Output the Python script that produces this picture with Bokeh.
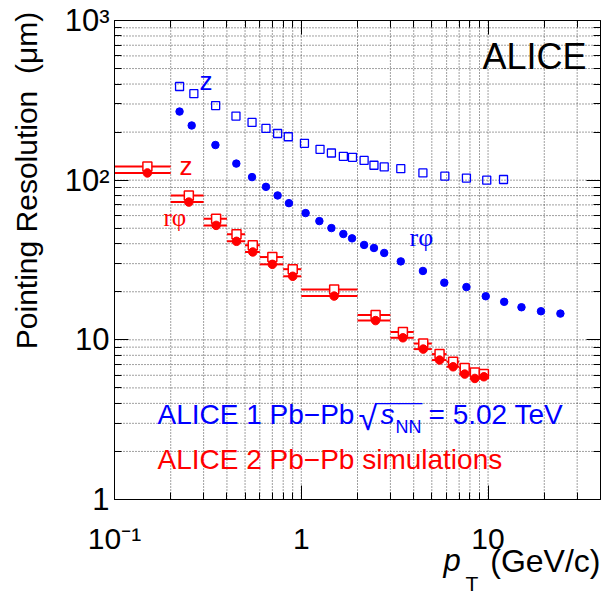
import math
from bokeh.plotting import figure
from bokeh.models import Range1d, FixedTicker, LogAxis, Label, ColumnDataSource
from bokeh.embed import file_html
from bokeh.resources import INLINE

# ---------------- data ----------------
# ALICE 1 (Pb-Pb 5.02 TeV) : z (open squares)
a1_z_pt = [0.223, 0.266, 0.348, 0.447, 0.545, 0.647, 0.747, 0.852, 1.04, 1.26, 1.45,
           1.68, 1.88, 2.17, 2.45, 2.78, 3.41, 4.48, 5.87, 7.66, 9.84, 12.1]
a1_z_res = [386, 348, 293, 252, 230, 211, 196, 187, 170, 156, 148,
            141, 139, 133, 124, 121, 118, 111, 106, 103, 100, 101]
# ALICE 1 : r-phi (filled circles)
a1_rphi_pt = [0.223, 0.259, 0.347, 0.449, 0.545, 0.647, 0.747, 0.859, 1.055, 1.25, 1.45,
              1.68, 1.87, 2.17, 2.45, 2.78, 3.41, 4.48, 5.83, 7.66, 9.72, 12.2, 15.1, 19.2, 24.4]
a1_rphi_res = [269, 220, 166, 127, 104.5, 90.8, 80.2, 71.8, 62.2, 55.4, 50.1,
               46.0, 43.2, 39.3, 37.6, 35.0, 31.0, 27.0, 22.8, 21.4, 18.75, 17.3, 16.0, 15.1, 14.6]
# ALICE 2 simulations (bins)
a2_pt = [0.15, 0.25, 0.35, 0.45, 0.55, 0.7, 0.9, 1.5, 2.5, 3.5, 4.5, 5.5, 6.5, 7.5, 8.5, 9.5]
a2_lo = [0.1, 0.2, 0.3, 0.4, 0.5, 0.6, 0.8, 1.0, 2.0, 3.0, 4.0, 5.0, 6.0, 7.0, 8.0, 9.0]
a2_hi = [0.2, 0.3, 0.4, 0.5, 0.6, 0.8, 1.0, 2.0, 3.0, 4.0, 5.0, 6.0, 7.0, 8.0, 9.0, 10.0]
a2_rphi_res = [111, 72.9, 52.1, 41.4, 35.5, 29.7, 25.0, 18.8, 13.2, 10.3, 8.75, 7.47, 6.78, 6.10, 5.73, 5.87]
a2_z_res = [122, 80.2, 57.3, 45.8, 39.1, 33.0, 27.7, 20.7, 14.3, 11.2, 9.48, 8.14, 7.29, 6.66, 6.25, 6.1]

x_major = [0.1, 1, 10]
x_minor = [0.2, 0.3, 0.4, 0.5, 0.6, 0.7, 0.8, 0.9, 2, 3, 4, 5, 6, 7, 8, 9, 20, 30, 40]
x_labels = {0.1: "10\u207b\u00b9", 1: "1", 10: "10"}
y_major = [1, 10, 100, 1000]
y_minor = [2, 3, 4, 5, 6, 7, 8, 9, 20, 30, 40, 50, 60, 70, 80, 90, 200, 300, 400, 500, 600, 700, 800, 900]
y_labels = {1: "1", 10: "10", 100: "10\u00b2", 1000: "10\u00b3"}

BLUE = "#0000ff"
RED = "#ff0000"
FONT = "Liberation Sans"
SERIF = "Liberation Serif"

# ---------------- geometry ----------------
# The Bokeh frame fills the whole canvas; the ROOT-style box (0.1..40 x 1..1000)
# sits inside it at these pixel positions, drawn by fixed-location axes.
W, H = 602, 596
FX0, FX1, FY0, FY1 = 114, 600, 20, 499
XMIN, XMAX, YMIN, YMAX = 0.1, 40.0, 1.0, 1000.0
XDEC = (FX1 - FX0) / math.log10(XMAX / XMIN)
YDEC = (FY1 - FY0) / math.log10(YMAX / YMIN)


def dx(px):
    return XMIN * 10 ** ((px - FX0) / XDEC)


def dy(py):
    return YMIN * 10 ** ((FY1 - py) / YDEC)


p = figure(width=W, height=H, x_axis_type="log", y_axis_type="log",
           x_range=Range1d(dx(0), dx(W)), y_range=Range1d(dy(H), dy(0)),
           output_backend="svg", toolbar_location=None, min_border=0)
p.background_fill_color = "white"
p.border_fill_color = "white"
p.outline_line_color = None
p.xgrid.visible = False
p.ygrid.visible = False

xt = FixedTicker(ticks=x_major, minor_ticks=x_minor)
yt = FixedTicker(ticks=y_major, minor_ticks=y_minor)


def style_axis(ax, ticker, loc, bounds, labels=None, fs="30px", standoff=6, hide=False):
    ax.ticker = ticker
    ax.fixed_location = loc
    ax.bounds = bounds
    ax.axis_line_color = "black"
    ax.axis_line_width = 1
    ax.major_tick_in = 14
    ax.major_tick_out = 0
    ax.minor_tick_in = 7
    ax.minor_tick_out = 0
    ax.major_tick_line_color = "black"
    ax.minor_tick_line_color = "black"
    ax.major_label_text_font = FONT
    ax.major_label_text_font_size = fs
    ax.major_label_text_color = "black"
    ax.major_label_standoff = standoff
    if labels is not None:
        ax.major_label_overrides = labels
    if hide:
        ax.major_label_text_alpha = 0


# ---------------- grid (dotted, at every major and minor tick) ----------------
gx = x_major + x_minor
gy = y_major + y_minor
p.segment(x0=gx, x1=gx, y0=[YMIN] * len(gx), y1=[YMAX] * len(gx),
          line_color="black", line_alpha=0.75, line_dash="1 2", line_width=1)
p.segment(x0=[XMIN] * len(gy), x1=[XMAX] * len(gy), y0=gy, y1=gy,
          line_color="black", line_alpha=0.75, line_dash="1 2", line_width=1)

# ---------------- marks ----------------
src_z1 = ColumnDataSource(dict(x=a1_z_pt, y=a1_z_res))
src_r1 = ColumnDataSource(dict(x=a1_rphi_pt, y=a1_rphi_res))
src2 = ColumnDataSource(dict(x=a2_pt, lo=a2_lo, hi=a2_hi, r=a2_rphi_res, z=a2_z_res))

p.scatter("x", "y", source=src_z1, marker="square", size=8, fill_color=None,
          line_color=BLUE, line_width=1.3)
p.scatter("x", "y", source=src_r1, marker="circle", size=7.5, fill_color=BLUE,
          line_color=BLUE)

p.segment(x0="lo", x1="hi", y0="z", y1="z", source=src2, line_color=RED, line_width=2)
p.segment(x0="lo", x1="hi", y0="r", y1="r", source=src2, line_color=RED, line_width=2)
p.scatter("x", "z", source=src2, marker="square", size=9, fill_color="white",
          line_color=RED, line_width=1.5)
p.scatter("x", "r", source=src2, marker="circle", size=8.5, fill_color=RED,
          line_color=RED)

# ---------------- axes (box with inward ticks on all four sides) ----------------
style_axis(p.xaxis[0], xt, YMIN, (XMIN, XMAX), x_labels, "30px", 22)
style_axis(p.yaxis[0], yt, XMIN, (YMIN, YMAX), y_labels, "31px", 5)
top = LogAxis()
style_axis(top, xt, YMAX, (XMIN, XMAX), None, "10px", 0, hide=True)
p.add_layout(top, "above")
right = LogAxis()
style_axis(right, yt, XMAX, (YMIN, YMAX), None, "10px", 0, hide=True)
p.add_layout(right, "right")


# ---------------- texts ----------------
def lab(text, px, base, size, color="black", font=FONT, style="normal", align="left"):
    c = 0.3 if font == SERIF else 0.31
    p.add_layout(Label(x=dx(px), y=dy(base - c * size), text=text, text_font=font,
                       text_font_size=f"{size}px", text_color=color,
                       text_font_style=style, text_align=align,
                       text_baseline="middle"))


lab("ALICE", 586, 67, 36, align="right")
lab("z", 199, 89, 26, BLUE)
lab("z", 179, 174, 26, RED)
lab("r\u03c6", 163, 224, 25, RED, font=SERIF)
lab("r\u03c6", 409, 245, 26, BLUE, font=SERIF)

lab("ALICE 1 Pb\u2212Pb", 157, 423, 28, BLUE)
lab("\u221a", 358, 428, 34, BLUE)
lab("____", 375, 399, 21, BLUE)
lab("s", 380, 423, 28, BLUE, style="italic")
lab("NN", 395, 432, 18, BLUE)
lab("= 5.02 TeV", 428, 423, 28, BLUE)
lab("ALICE 2 Pb\u2212Pb simulations", 157, 468, 28, RED)

# x-axis title
lab("p", 443, 570, 31, style="italic")
lab("T", 465, 590, 21)
lab("(GeV/c)", 600, 570, 32, align="right")

# y-axis title (rotated, reading upwards)
p.add_layout(Label(x=dx(25.5), y=dy(180), text="Pointing Resolution\u00a0 (\u03bcm)",
                   text_font=FONT, text_font_size="30px", text_color="black",
                   angle=math.pi / 2, text_align="center", text_baseline="middle"))

open("out.html", "w").write(file_html(p, INLINE))
